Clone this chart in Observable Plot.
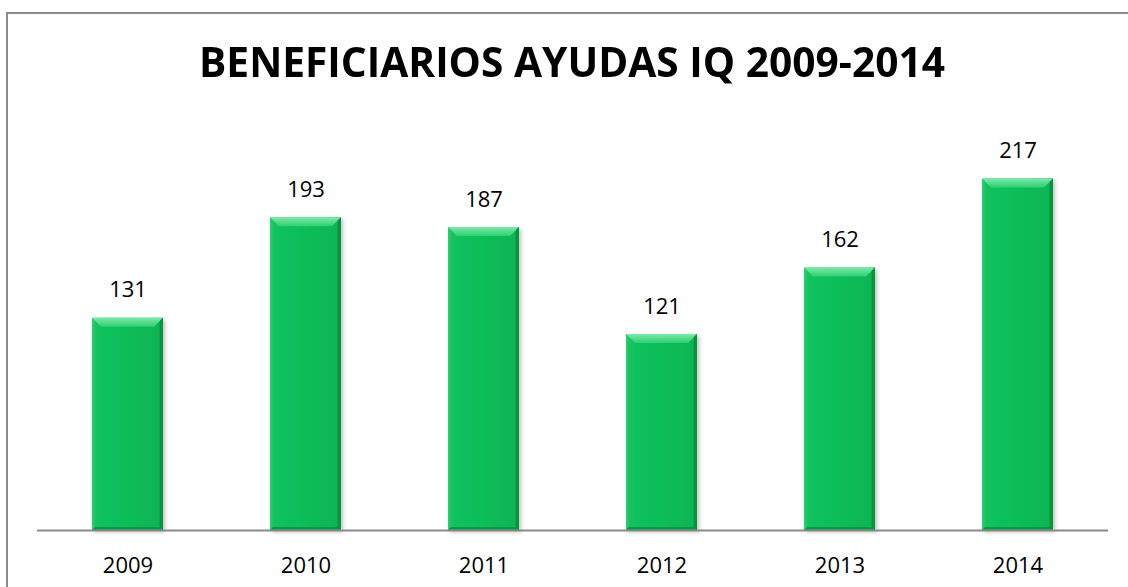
<!DOCTYPE html>
<html>
<head>
<meta charset="utf-8">
<script src="https://cdn.jsdelivr.net/npm/d3@7"></script>
<script src="https://cdn.jsdelivr.net/npm/@observablehq/plot@0.6"></script>
<style>
  html, body { margin:0; padding:0; background:#fff; }
  #wrap { position:relative; width:1128px; height:587px; overflow:hidden; }
  #frame { position:absolute; left:6px; top:12px; width:1200px; height:700px;
           border-top:2px solid #8a8a8a; border-left:2px solid #8a8a8a; box-sizing:border-box; }
  #title { position:absolute; top:31px; left:0; white-space:nowrap;
           font-family:"Open Sans", sans-serif; font-weight:700; font-size:41px; line-height:60px;
           color:#000; transform-origin:0 0; }
  #chart { position:absolute; left:0; top:0; }
</style>
</head>
<body>
<div id="wrap">
  <div id="frame"></div>
  <div id="chart"></div>
  <div id="title">BENEFICIARIOS AYUDAS IQ 2009-2014</div>
</div>
<script>
const years = ["2009", "2010", "2011", "2012", "2013", "2014"];
const values = [131, 193, 187, 121, 162, 217];
const data = years.map((year, i) => ({year, value: values[i]}));

const plot = Plot.plot({
  width: 1128,
  height: 587,
  marginTop: 125,
  marginBottom: 57,
  marginLeft: 37,
  marginRight: 20,
  style: {fontFamily: "'Open Sans', sans-serif", fontSize: "22px", color: "#000", background: "transparent"},
  x: {domain: years, paddingInner: 0.6, paddingOuter: 0.3, label: null, tickSize: 0, tickPadding: 27},
  y: {domain: [0, 250], axis: null},
  marks: [
    Plot.barY(data, {x: "year", y: "value", fill: "url(#barGrad)", className: "bars"}),
    Plot.ruleY([0], {stroke: "#8a8a8a", strokeWidth: 2}),
    Plot.text(data, {x: "year", y: "value", text: d => String(d.value), dy: -28, fill: "#000"})
  ]
});
document.getElementById("chart").appendChild(plot);

// gradients / bevel styling
const svg = d3.select(plot);
const defs = svg.insert("defs", ":first-child");
const g = defs.append("linearGradient").attr("id", "barGrad").attr("x1", "0").attr("x2", "1").attr("y1", "0").attr("y2", "0");
[["0%", "#2fcf72"], ["6%", "#12c25e"], ["50%", "#0dbd58"], ["93%", "#0bb654"], ["100%", "#07873d"]]
  .forEach(([o, c]) => g.append("stop").attr("offset", o).attr("stop-color", c));
const t = defs.append("linearGradient").attr("id", "topGrad").attr("x1", "0").attr("x2", "0").attr("y1", "0").attr("y2", "1");
[["0%", "#7de8a8"], ["100%", "#2ed072"]].forEach(([o, c]) => t.append("stop").attr("offset", o).attr("stop-color", c));
const f = defs.append("filter").attr("id", "shadow").attr("x", "-20%").attr("y", "-20%").attr("width", "140%").attr("height", "140%");
f.append("feDropShadow").attr("dx", 2).attr("dy", 2).attr("stdDeviation", 2).attr("flood-color", "#000").attr("flood-opacity", 0.25);

svg.selectAll("g.bars rect").each(function() {
  const r = d3.select(this);
  r.attr("filter", "url(#shadow)");
  const x = +r.attr("x"), y = +r.attr("y"), w = +r.attr("width"), h = +r.attr("height");
  const b = 9;
  const parent = d3.select(this.parentNode);
  parent.append("polygon")
    .attr("points", `${x},${y} ${x + w},${y} ${x + w - b},${y + b} ${x + b},${y + b}`)
    .attr("fill", "url(#topGrad)");
  parent.append("polygon")
    .attr("points", `${x + w},${y} ${x + w},${y + h} ${x + w - 3},${y + h - 3} ${x + w - 3},${y + 3}`)
    .attr("fill", "#07943f");
  parent.append("polygon")
    .attr("points", `${x},${y + h} ${x + w},${y + h} ${x + w - 3},${y + h - 3} ${x + 3},${y + h - 3}`)
    .attr("fill", "#089a43");
});

// fit title to reference width
const title = document.getElementById("title");
const w = title.getBoundingClientRect().width;
const target = 746;
const s = target / w;
title.style.transform = `scaleX(${s})`;
title.style.left = (572 - target / 2) + "px";
</script>
</body>
</html>
